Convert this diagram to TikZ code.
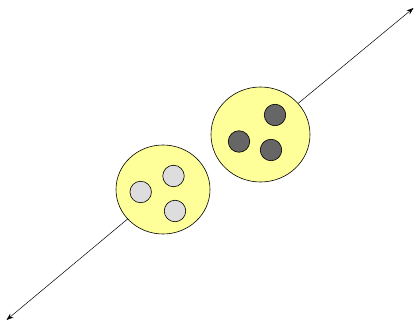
\documentclass[tikz,border=0pt]{standalone}
\usetikzlibrary{arrows.meta,shapes.geometric}
\definecolor{blobfill}{HTML}{FFFF99}
\definecolor{lightball}{HTML}{DDDDDD}
\definecolor{darkball}{HTML}{666666}
\begin{document}
\begin{tikzpicture}[x=1pt,y=-1pt,
  blob/.style={ellipse,draw=black,line width=0.6pt,fill=blobfill,inner sep=0pt},
  ball/.style={circle,draw=black,line width=0.6pt,inner sep=0pt,minimum size=21.5pt},
  lightb/.style={ball,fill=lightball},
  darkb/.style={ball,fill=darkball},
  axis/.style={line width=0.5pt,-{Stealth[length=7pt,width=5pt]}}]
\useasboundingbox (0,0) rectangle (416,321);
\coordinate (lc) at (163,189.5);
\coordinate (rc) at (260.5,134.5);
\coordinate (bl) at (6.5,320);
\coordinate (tr) at (413.5,8);
\draw[axis] (lc) -- (bl);
\draw[axis] (rc) -- (tr);
\node[blob,minimum width=94pt,minimum height=89pt] (left) at (lc) {};
\node[blob,minimum width=99pt,minimum height=95pt] (right) at (rc) {};
\node[lightb] (l1) at (140.7,192) {};
\node[lightb] (l2) at (173.5,176) {};
\node[lightb] (l3) at (175,211) {};
\node[darkb] (r1) at (275,115) {};
\node[darkb] (r2) at (239,141.5) {};
\node[darkb] (r3) at (271,150) {};
\end{tikzpicture}
\end{document}
